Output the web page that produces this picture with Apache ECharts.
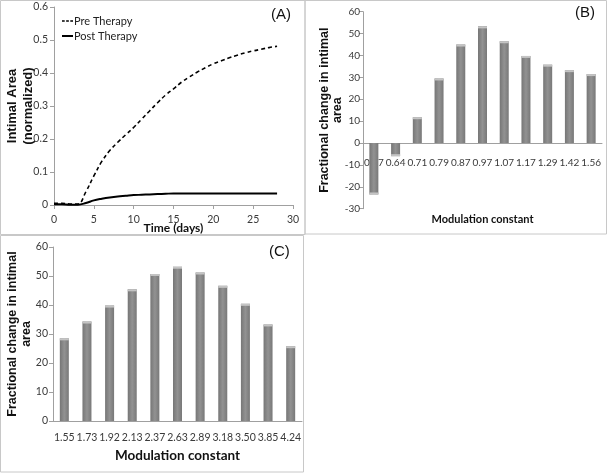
<!DOCTYPE html>
<html><head><meta charset="utf-8">
<script src="https://cdn.jsdelivr.net/npm/echarts@6/dist/echarts.min.js"></script>
<style>html,body{margin:0;padding:0;background:#fff}#c{width:608px;height:473px}</style>
</head><body><div id="c"></div>
<script>
const days = [0,1,2,3,4,5,6,7,8,9,10,11,12,13,14,15,16,17,18,19,20,21,22,23,24,25,26,27,28];
const preTherapy = [0.005,0.005,0.003,0.003,0.04,0.088,0.132,0.165,0.19,0.213,0.235,0.26,0.285,0.31,0.333,0.352,0.372,0.388,0.403,0.416,0.428,0.437,0.446,0.454,0.461,0.467,0.472,0.477,0.481];
const postTherapy = [0.002,0.002,0.001,0.001,0.006,0.014,0.019,0.023,0.026,0.028,0.030,0.031,0.032,0.033,0.034,0.035,0.035,0.035,0.035,0.035,0.035,0.035,0.035,0.035,0.035,0.035,0.035,0.035,0.035];
const bCats = ['0.57','0.64','0.71','0.79','0.87','0.97','1.07','1.17','1.29','1.42','1.56'];
const bVals = [-23.5,-6,11.8,29.5,45,53.3,46.5,39.8,35.8,33.3,31.5];
const cCats = ['1.55','1.73','1.92','2.13','2.37','2.63','2.89','3.18','3.50','3.85','4.24'];
const cVals = [28.5,34.3,39.8,45.4,50.7,53.2,51.2,46.6,40.4,33.3,25.8];

const FN = "Lato, 'Liberation Sans', sans-serif";
const FB = "'Liberation Sans', Arial, sans-serif";
const axisLine = {lineStyle:{color:'#a0a0a0',width:1}};
const axisTick = {lineStyle:{color:'#a0a0a0'},length:4};
const lbl = (m, fs)=>({fontFamily:FN,fontSize:fs||11,color:'#3a3a3a',margin:m});
const barColor = {type:'linear',x:0,y:0,x2:1,y2:0,colorStops:[{offset:0,color:'#767676'},{offset:0.5,color:'#929292'},{offset:1,color:'#787878'}]};
const toPairs = (xs, ys) => xs.map((x,i)=>[x, ys[i]]);

const chart = echarts.init(document.getElementById('c'), null, {renderer:'canvas'});
chart.setOption({
  animation:false,
  backgroundColor:'#fff',
  grid:[
    {left:54, top:7, width:239, height:198},
    {left:363, top:11.7, width:239, height:197},
    {left:53, top:247, width:249, height:174}
  ],
  legend:{
    left:57, top:10.5, orient:'vertical', itemWidth:11, itemHeight:10, itemGap:4,
    textStyle:{fontFamily:FN,fontSize:11,color:'#222',padding:[0,0,0,-4]},
    data:[
      {name:'Pre Therapy', icon:'path://M0,0h3.2v2h-3.2z M4.9,0h3.2v2h-3.2z M9.8,0h3.2v2h-3.2z'},
      {name:'Post Therapy', icon:'path://M0,0h13v2.4h-13z'}
    ]
  },
  xAxis:[
    {gridIndex:0,type:'value',min:0,max:30,interval:5,axisLine,axisTick,splitLine:{show:false},
     axisLabel:lbl(9,10.5),name:'Time (days)',nameLocation:'middle',nameGap:17,nameMoveOverlap:false,
     nameTextStyle:{fontFamily:FN,fontSize:12,fontWeight:'bold',color:'#111'}},
    {gridIndex:1,type:'category',data:bCats,axisLine:Object.assign({onZero:false},axisLine),axisTick,offset:-65.7,
     axisLabel:Object.assign(lbl(14.5,10),{interval:0}),
     name:'Modulation constant',nameLocation:'middle',nameGap:71,nameMoveOverlap:false,
     nameTextStyle:{fontFamily:FN,fontSize:11,fontWeight:'bold',color:'#111'}},
    {gridIndex:2,type:'category',data:cCats,axisLine,axisTick,
     axisLabel:Object.assign(lbl(11.5,10.5),{interval:0}),
     name:'Modulation constant',nameLocation:'middle',nameGap:28,nameMoveOverlap:false,
     nameTextStyle:{fontFamily:FN,fontSize:13.5,fontWeight:'bold',color:'#111'}}
  ],
  yAxis:[
    {gridIndex:0,type:'value',min:0,max:0.6,interval:0.1,axisLine:Object.assign({show:true},axisLine),axisTick:Object.assign({show:true},axisTick),
     splitLine:{show:false},axisLabel:lbl(6,10.5),
     name:'Intimal Area\n(normalized)',nameLocation:'middle',nameGap:18,nameMoveOverlap:false,
     nameTextStyle:{fontFamily:FB,fontSize:13,fontWeight:'bold',color:'#111',lineHeight:16}},
    {gridIndex:1,type:'value',min:-30,max:60,interval:10,axisLine:Object.assign({show:true},axisLine),axisTick:Object.assign({show:true},axisTick),
     splitLine:{show:false},axisLabel:lbl(3,10),
     name:'Fractional change in intimal\narea',nameLocation:'middle',nameGap:19,nameMoveOverlap:false,
     nameTextStyle:{fontFamily:FB,fontSize:12.5,fontWeight:'bold',color:'#111',lineHeight:13}},
    {gridIndex:2,type:'value',min:0,max:60,interval:10,axisLine:Object.assign({show:true},axisLine),axisTick:Object.assign({show:true},axisTick),
     splitLine:{show:false},axisLabel:lbl(5,10.5),
     name:'Fractional change in intimal\narea',nameLocation:'middle',nameGap:19.3,nameMoveOverlap:false,
     nameTextStyle:{fontFamily:FB,fontSize:12.5,fontWeight:'bold',color:'#111',lineHeight:14}}
  ],
  series:[
    {name:'Pre Therapy',type:'line',xAxisIndex:0,yAxisIndex:0,data:toPairs(days,preTherapy),smooth:0.4,symbol:'none',
     lineStyle:{color:'#000',width:1.6,type:[4,3]},itemStyle:{color:'#000'}},
    {name:'Post Therapy',type:'line',xAxisIndex:0,yAxisIndex:0,data:toPairs(days,postTherapy),smooth:0.4,symbol:'none',
     lineStyle:{color:'#000',width:2},itemStyle:{color:'#000'}},
    {type:'bar',xAxisIndex:1,yAxisIndex:1,data:bVals,barWidth:9,itemStyle:{color:barColor}},
    {type:'pictorialBar',xAxisIndex:1,yAxisIndex:1,data:bVals,symbol:'rect',symbolSize:[9,2],symbolPosition:'end',itemStyle:{color:'#c4c4c4'},z:3},
    {type:'bar',xAxisIndex:2,yAxisIndex:2,data:cVals,barWidth:9,itemStyle:{color:barColor}},
    {type:'pictorialBar',xAxisIndex:2,yAxisIndex:2,data:cVals,symbol:'rect',symbolSize:[9,2],symbolPosition:'end',itemStyle:{color:'#c4c4c4'},z:3}
  ],
  graphic:[
    {type:'rect',shape:{x:0.5,y:0.5,width:304.5,height:234},style:{fill:null,stroke:'#c8c8c8',lineWidth:1},silent:true},
    {type:'rect',shape:{x:305,y:0.5,width:301.5,height:233.5},style:{fill:null,stroke:'#c8c8c8',lineWidth:1},silent:true},
    {type:'rect',shape:{x:0.5,y:235.5,width:303,height:236.5},style:{fill:null,stroke:'#c8c8c8',lineWidth:1},silent:true},
    {type:'text',left:271,top:7,style:{text:'(A)',font:'15px "Liberation Sans", Arial, sans-serif',fill:'#111'}},
    {type:'text',left:575,top:5,style:{text:'(B)',font:'15px "Liberation Sans", Arial, sans-serif',fill:'#111'}},
    {type:'text',left:269,top:244,style:{text:'(C)',font:'15px "Liberation Sans", Arial, sans-serif',fill:'#111'}}
  ]
});
</script></body></html>
